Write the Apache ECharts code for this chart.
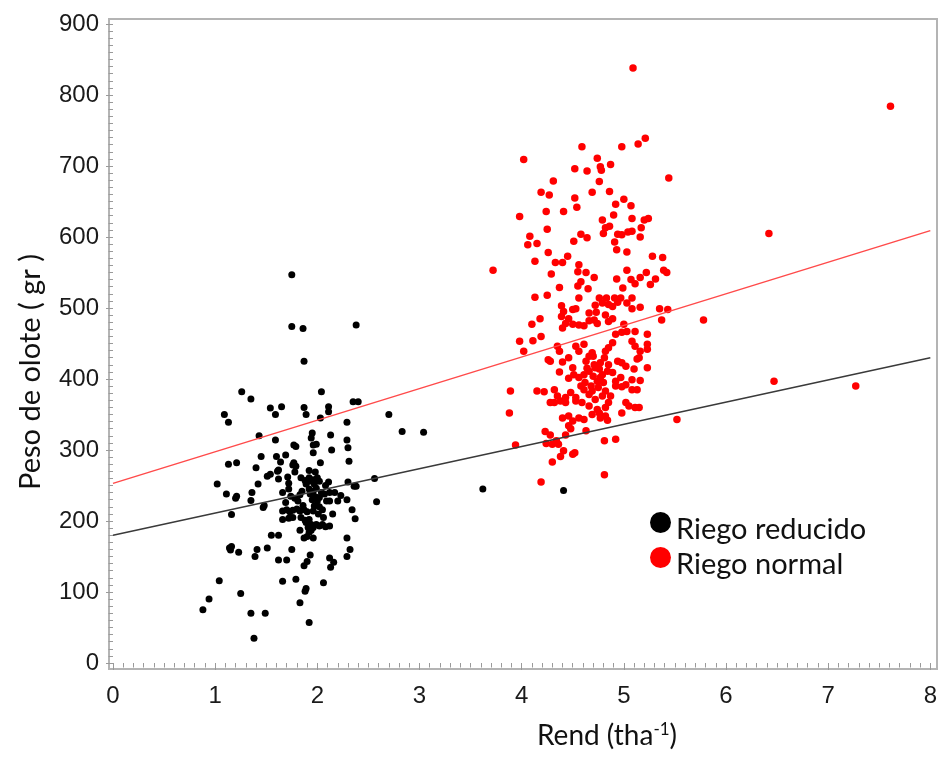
<!DOCTYPE html>
<html>
<head>
<meta charset="utf-8">
<script src="https://cdn.jsdelivr.net/npm/echarts@6/dist/echarts.min.js"></script>
<style>
  html, body { margin: 0; padding: 0; background: #fff; }
  #chart { width: 940px; height: 760px; }
</style>
</head>
<body>
<div id="chart"></div>
<script>
// Rendimiento (t/ha) vs peso de olote (g) bajo dos regímenes de riego
const seriesNames = ['Riego reducido', 'Riego normal'];

const reducidoPts = [
  [1.75,547],[1.75,474],[1.86,471],[2.38,476],[1.87,425],[1.26,382],[1.35,372],[2.04,382],[2.35,368],[2.40,368],
  [1.09,350],[1.13,339],[1.54,359],[1.65,361],[1.59,350],[1.87,360],[1.89,350],[2.11,361],[2.11,354],[2.03,345],
  [2.29,339],[2.70,350],[2.83,326],[3.04,325],[1.43,320],[1.59,314],[1.95,324],[1.94,317],[2.13,321],[2.29,314],
  [2.30,303],[1.77,307],[1.79,305],[1.96,307],[1.99,308],[2.14,300],[1.96,296],[1.45,291],[1.60,291],[1.69,293],
  [1.64,283],[1.40,275],[1.77,282],[1.79,277],[1.76,279],[2.03,282],[2.31,284],[1.13,280],[1.21,282],[1.98,269],
  [1.92,271],[1.54,266],[1.51,263],[1.61,270],[1.62,272],[1.78,269],[1.02,252],[1.62,259],[1.71,262],[1.72,253],
  [1.72,245],[1.42,252],[1.84,261],[1.88,257],[1.92,261],[1.96,258],[2.00,261],[2.02,256],[1.92,256],[1.89,252],
  [1.97,252],[1.92,245],[1.99,246],[2.11,255],[2.30,255],[2.36,249],[2.38,249],[2.56,260],[1.11,238],[1.20,232],
  [1.21,235],[1.35,229],[1.36,240],[1.66,240],[1.74,235],[1.83,237],[1.85,242],[1.93,238],[1.96,242],[1.98,234],
  [2.04,240],[2.07,238],[2.02,233],[2.12,240],[2.17,240],[2.23,236],[2.20,228],[2.12,228],[2.09,228],[2.29,230],
  [2.00,228],[1.97,221],[2.02,220],[1.96,214],[2.01,210],[2.05,216],[1.47,219],[1.48,222],[1.16,209],[1.66,214],
  [1.70,216],[1.73,213],[1.76,215],[1.80,217],[1.83,214],[1.87,216],[1.90,213],[1.66,202],[1.72,204],[1.76,205],
  [1.84,205],[1.88,201],[1.89,198],[1.92,202],[1.94,195],[1.91,191],[1.96,191],[1.99,195],[2.02,193],[2.05,195],
  [2.08,192],[2.12,193],[2.34,216],[2.37,203],[2.58,227],[1.83,187],[1.87,176],[1.90,178],[1.94,187],[1.96,176],
  [1.92,184],[1.55,180],[1.62,180],[2.29,176],[1.14,162],[1.16,164],[1.15,159],[1.23,156],[1.41,160],[1.51,162],
  [1.39,150],[1.75,160],[2.32,160],[2.29,150],[1.93,152],[1.90,143],[1.87,137],[1.62,145],[1.70,145],[2.12,148],
  [2.16,142],[2.13,135],[1.04,116],[1.66,115],[1.79,118],[2.06,113],[1.89,105],[1.88,101],[1.25,98],[1.83,85],
  [0.94,90],[0.88,75],[1.35,70],[1.49,70],[1.92,57],[1.38,35],[3.62,245],[4.41,243],
  [1.81,228],[1.86,222],[1.78,232],[2.08,250],[2.15,210],[1.69,226],[2.06,205],[1.95,230]
];

const normalPts = [
  [5.09,838],[5.21,739],[5.14,731],[4.59,727],[4.98,727],[4.02,709],[4.74,711],[4.52,696],[4.64,693],[4.77,699],
  [4.78,694],[4.87,702],[5.44,683],[4.31,679],[4.76,678],[4.19,663],[4.27,659],[4.69,663],[4.86,664],[4.52,655],
  [4.54,642],[5.00,653],[5.07,644],[4.92,646],[3.98,629],[4.24,636],[4.41,636],[4.90,631],[4.79,624],[5.08,626],
  [5.20,624],[5.24,626],[4.25,611],[5.17,613],[4.82,613],[4.86,615],[4.80,605],[4.94,604],[4.98,603],[5.04,607],
  [5.08,608],[5.16,600],[4.58,604],[4.64,599],[4.08,601],[4.06,589],[4.15,591],[4.51,594],[4.91,593],[4.93,582],
  [5.03,579],[4.26,578],[4.45,573],[4.40,564],[4.33,564],[4.13,566],[4.56,561],[4.55,551],[4.63,550],[5.28,573],
  [5.38,571],[5.39,553],[5.42,550],[5.03,553],[5.22,550],[5.16,543],[5.31,541],[4.29,548],[4.71,543],[4.93,541],
  [5.07,540],[5.11,534],[5.26,533],[3.72,553],[4.58,537],[4.55,531],[4.37,529],[4.65,527],[4.99,528],[4.13,515],
  [4.25,518],[4.56,514],[4.76,514],[4.83,514],[4.91,514],[4.97,514],[5.08,514],
  [4.39,503],[4.41,495],[4.50,498],[4.53,499],[4.66,493],[4.73,494],[4.72,504],[4.79,507],[4.85,505],[4.89,502],
  [4.94,508],[5.03,507],[5.08,499],[5.16,501],[5.35,499],[5.43,498],[5.37,483],[5.78,483],[4.10,477],[4.18,485],
  [4.39,488],[4.46,485],[4.43,478],[4.40,472],[4.50,477],[4.56,476],[4.61,475],[4.66,482],[4.71,483],[4.74,478],
  [4.82,490],[4.89,485],[4.85,481],[5.00,477],[4.92,463],[4.98,466],[5.03,467],[5.11,467],[5.23,463],[5.08,453],
  [5.11,446],[5.23,449],[5.23,442],[5.16,439],[3.98,453],[4.02,439],[4.11,454],[4.19,460],[4.26,427],[4.28,425],
  [4.35,446],[4.37,439],[4.40,424],[4.46,430],[4.50,416],[4.53,446],[4.56,439],[4.61,449],[4.63,425],[4.66,432],
  [4.69,437],[4.72,416],[4.76,414],[4.77,423],[4.81,430],[4.82,439],[4.85,444],[4.89,451],[4.94,425],[4.98,423],
  [5.02,418],[5.10,414],[5.13,428],[5.15,430],[5.23,416],[4.37,410],[4.46,401],[4.51,406],[4.56,402],[4.61,406],
  [4.66,411],[4.70,404],[4.74,397],[4.79,406],[4.84,411],[4.89,409],[4.92,397],[4.97,402],[5.02,392],[5.08,399],
  [5.16,398],[3.89,383],[4.15,383],[4.22,382],[4.32,385],[4.35,376],[4.43,374],[4.48,381],[4.53,374],[4.61,385],
  [4.66,378],[4.69,383],[4.72,371],[4.79,376],[4.82,383],[4.87,376],[4.92,390],[4.98,389],[5.08,385],[5.13,385],
  [4.28,367],[4.32,367],[4.38,369],[4.43,367],[4.53,369],[4.59,367],[4.66,362],[4.74,357],[4.82,360],[4.85,367],
  [5.02,367],[5.05,362],[5.11,360],[5.15,360],[3.88,352],[4.40,345],[4.46,348],[4.50,341],[4.56,345],[4.61,343],
  [4.69,350],[4.76,352],[4.77,345],[4.82,348],[4.84,342],[4.98,352],[5.52,343],[4.46,334],[4.48,330],[4.63,327],
  [4.23,326],[4.28,321],[4.43,321],[4.34,313],[4.24,309],[4.30,308],[4.36,308],[3.94,307],[4.81,313],[4.92,315],
  [4.41,299],[4.38,291],[4.50,294],[4.52,296],[4.30,283],[4.19,255],[4.81,265],
  [4.62,395],[4.68,390],[4.75,388],[4.71,420],[4.64,415],[4.80,395],[4.58,390],[4.85,420],[4.70,432],[4.77,402],
  [7.61,784],[6.42,605],[6.47,397],[7.27,390]
];

// Fitted regression lines (endpoints at x = 0 and x = 8)
const reducidoFit = [[0,180],[8,430]];
const normalFit = [[0,253],[8,609]];

const xTicks = { min: 0, max: 8, step: 1 };
const yTicks = { min: 0, max: 900, step: 100 };

const tickFont = { fontFamily: 'Liberation Sans, Arial, sans-serif', fontSize: 24, color: '#1a1a1a' };
const titleFont = 'Lato, "Open Sans", sans-serif';
const frameGray = '#b4b4b4';
const tickGray = '#9a9a9a';

// one legend block per series so each row can be placed on its own
function legendBlock(name, top) {
  return {
    left: 650, top: top, padding: 0, orient: 'vertical',
    icon: 'circle', itemWidth: 21, itemHeight: 21, itemGap: 0,
    data: [name],
    itemStyle: { opacity: 1 },
    formatter: '{t|{name}}',
    textStyle: {
      color: '#111',
      rich: { t: { fontFamily: titleFont, fontSize: 29, color: '#111', padding: [15, 0, 0, 0] } }
    }
  };
}

const chart = echarts.init(document.getElementById('chart'), null, { renderer: 'canvas' });

chart.setOption({
  animation: false,
  backgroundColor: '#ffffff',
  grid: [
    { left: 113, right: 8, top: 24, bottom: 97, containLabel: false },
    // outer frame
    { left: 109, right: 3, top: 19, bottom: 91, show: true, borderColor: frameGray, borderWidth: 2, backgroundColor: 'transparent', z: 0 }
  ],
  xAxis: [
    {
      type: 'value', gridIndex: 0, min: xTicks.min, max: xTicks.max, interval: xTicks.step,
      offset: 6,
      axisLine: { show: false },
      axisTick: { show: true, length: 7, lineStyle: { color: tickGray, width: 1 } },
      minorTick: { show: true, splitNumber: 10, length: 4.5, lineStyle: { color: tickGray, width: 1 } },
      splitLine: { show: false },
      axisLabel: Object.assign({ margin: 15 }, tickFont)
    },
    { type: 'value', gridIndex: 1, show: false, min: 0, max: 1 }
  ],
  yAxis: [
    {
      type: 'value', gridIndex: 0, min: yTicks.min, max: yTicks.max, interval: yTicks.step,
      offset: 4,
      axisLine: { show: false },
      axisTick: { show: true, length: 7, lineStyle: { color: tickGray, width: 1 } },
      minorTick: { show: true, splitNumber: 10, length: 4.5, lineStyle: { color: tickGray, width: 1 } },
      splitLine: { show: false },
      axisLabel: Object.assign({ margin: 10 }, tickFont)
    },
    { type: 'value', gridIndex: 1, show: false, min: 0, max: 1 }
  ],
  legend: [legendBlock(seriesNames[0], 512), legendBlock(seriesNames[1], 547)],
  graphic: [
    {
      type: 'text', x: 607, y: 736,
      style: {
        text: 'Rend (tha{sup|-1})',
        font: '28px ' + titleFont, fill: '#111', align: 'center', verticalAlign: 'middle',
        rich: { sup: { fontSize: 17, fontFamily: titleFont, verticalAlign: 'top', padding: [0, 0, 12, 0], fill: '#111' } }
      }
    },
    {
      type: 'text', x: 31, y: 372, rotation: Math.PI / 2,
      style: { text: 'Peso de olote ( gr )', font: '29px ' + titleFont, fill: '#111', align: 'center', verticalAlign: 'middle' }
    }
  ],
  series: [
    {
      name: seriesNames[0], type: 'scatter', xAxisIndex: 0, yAxisIndex: 0,
      data: reducidoPts, symbol: 'circle', symbolSize: 7,
      itemStyle: { color: '#000000', opacity: 1 }, z: 3
    },
    {
      name: seriesNames[1], type: 'scatter', xAxisIndex: 0, yAxisIndex: 0,
      data: normalPts, symbol: 'circle', symbolSize: 7.5,
      itemStyle: { color: '#ff0000', opacity: 1 }, z: 4
    },
    {
      type: 'line', xAxisIndex: 0, yAxisIndex: 0, data: reducidoFit,
      showSymbol: false, symbol: 'none', lineStyle: { color: '#3a3a3a', width: 1.5 }, z: 5, silent: true
    },
    {
      type: 'line', xAxisIndex: 0, yAxisIndex: 0, data: normalFit,
      showSymbol: false, symbol: 'none', lineStyle: { color: '#ff4a4a', width: 1.5 }, z: 5, silent: true
    }
  ]
});
</script>
</body>
</html>
